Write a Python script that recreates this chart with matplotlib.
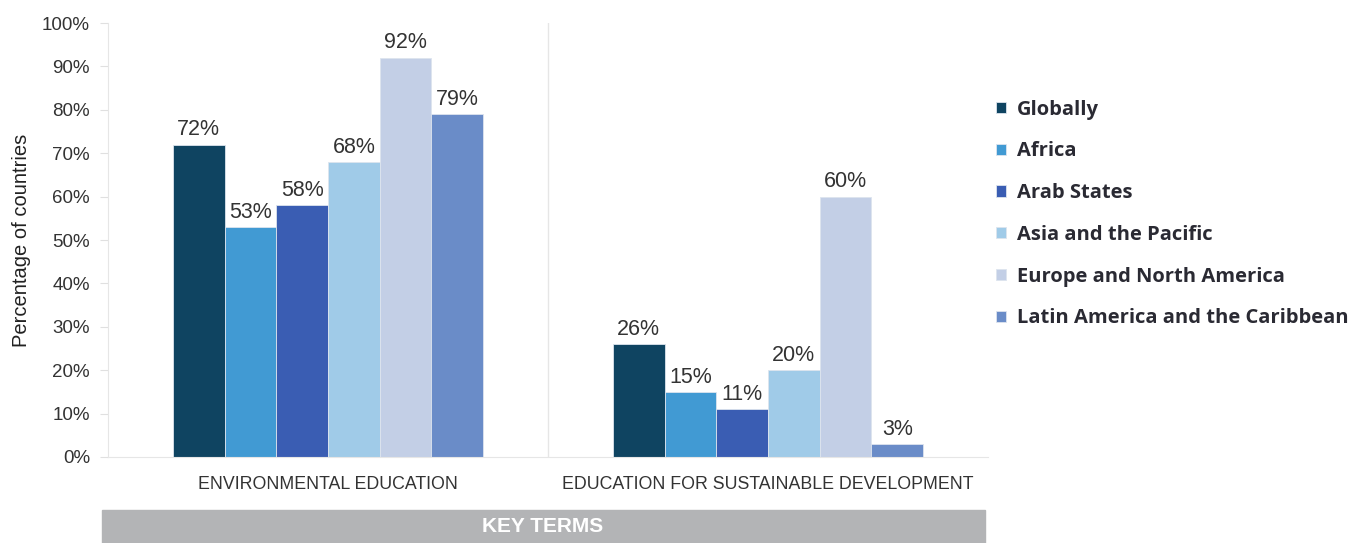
import numpy as np
import matplotlib
matplotlib.use("Agg")
import matplotlib.pyplot as plt
from matplotlib.patches import Rectangle

plt.rcParams["font.family"] = ["Liberation Sans", "DejaVu Sans"]

# data
categories = ["ENVIRONMENTAL EDUCATION", "EDUCATION FOR SUSTAINABLE DEVELOPMENT"]
regions = ["Globally", "Africa", "Arab States", "Asia and the Pacific",
           "Europe and North America", "Latin America and the Caribbean"]
env_edu = [72, 53, 58, 68, 92, 79]
esd = [26, 15, 11, 20, 60, 3]
colors = ["#0F4461", "#419AD3", "#3A5DB3", "#A0CBE8", "#C3CFE6", "#6A8CC8"]
yticks = [0, 10, 20, 30, 40, 50, 60, 70, 80, 90, 100]

values = np.array([env_edu, esd])

fig = plt.figure(figsize=(13.61, 5.43), dpi=100)
ax = fig.add_axes([0.0794, 0.1584, 0.6465, 0.7992])

x = np.arange(len(categories))
w = 0.1175
for i, reg in enumerate(regions):
    pos = x + (i - 2.5) * w
    bars = ax.bar(pos, values[:, i], width=w, color=colors[i], label=reg,
                  edgecolor="#dde4ee", linewidth=0.6)
    for b, v in zip(bars, values[:, i]):
        ax.text(b.get_x() + b.get_width() / 2, v + 1.0, f"{v}%", ha="center",
                va="bottom", fontsize=15.5, color="#333333")

ax.set_xlim(-0.5, 1.5)
ax.set_ylim(0, 100)
ax.set_yticks(yticks)
ax.set_yticklabels([f"{t}%" for t in yticks], fontsize=13.5, color="#333333")
ax.set_xticks(x)
ax.set_xticklabels(categories, fontsize=12.8, color="#333333")
ax.tick_params(axis="x", length=0, pad=14)
ax.tick_params(axis="y", length=6, color="#e0e0e0", pad=7)
ax.axvline(0.5, color="#e6e6e6", linewidth=1)
for s in ["top", "right"]:
    ax.spines[s].set_visible(False)
for s in ["left", "bottom"]:
    ax.spines[s].set_color("#e6e6e6")
ax.set_ylabel("Percentage of countries", fontsize=14.5, color="#222222", labelpad=8)

leg = ax.legend(loc="upper left", bbox_to_anchor=(1.0, 0.842), frameon=False,
                prop={"family": ["Open Sans", "DejaVu Sans"], "weight": "bold", "size": 14.5},
                handlelength=0.5, handleheight=0.5, handletextpad=0.55,
                labelspacing=1.08, borderaxespad=0)
for t in leg.get_texts():
    t.set_color("#2a2a33")

fig.patches.append(Rectangle((102 / 1361, 0), 883 / 1361, 33 / 543,
                             transform=fig.transFigure, color="#B3B4B6", zorder=0))
fig.text(543 / 1361, 16 / 543, "KEY TERMS", ha="center", va="center", color="white",
         fontsize=15, fontweight="bold")

fig.savefig("out.png", dpi=100)
